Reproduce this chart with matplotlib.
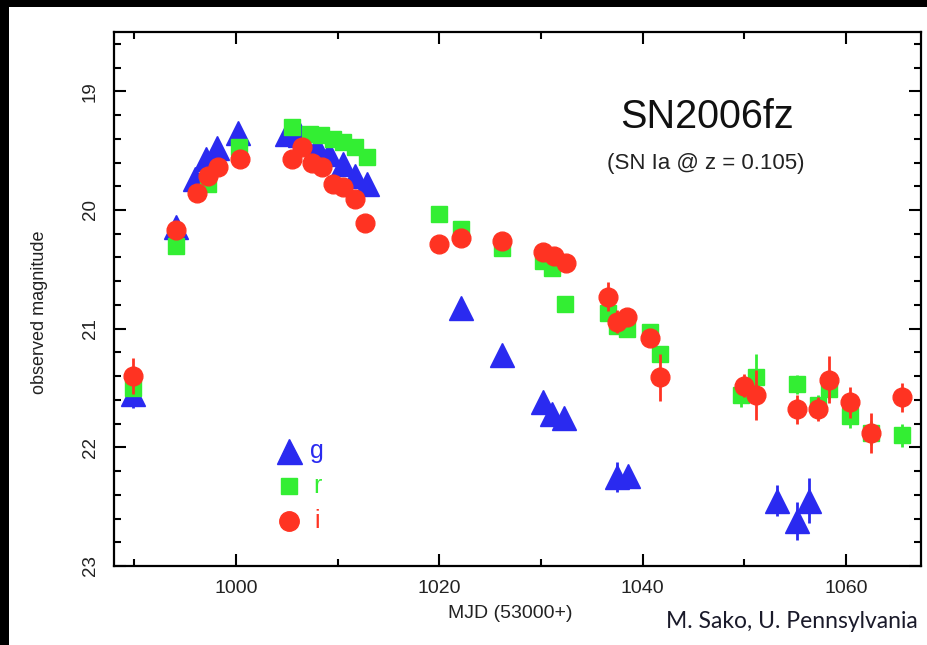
import matplotlib.pyplot as plt
from matplotlib.patches import Rectangle
from matplotlib.ticker import MultipleLocator

# ======================
# DATA
# ======================

# g band (triangles)
g_mjd = [989.9, 994.1, 996.0, 997.1, 998.1, 1000.2, 1005.0, 1006.3, 1008.0,
         1009.2, 1010.5, 1011.7, 1012.9, 1022.1, 1026.2, 1030.2, 1031.1,
         1032.3, 1037.5, 1038.6, 1053.2, 1055.2, 1056.4]
g_mag = [21.55, 20.14, 19.74, 19.57, 19.48, 19.35, 19.36, 19.37, 19.47,
         19.53, 19.61, 19.71, 19.78, 20.83, 21.22, 21.62, 21.72,
         21.75, 22.25, 22.24, 22.45, 22.62, 22.45]
g_err = [0.12, 0.03, 0.03, 0.03, 0.03, 0.03, 0.03, 0.03, 0.03,
         0.03, 0.03, 0.03, 0.03, 0.04, 0.04, 0.05, 0.05,
         0.05, 0.13, 0.06, 0.13, 0.16, 0.19]

# r band (squares)
r_mjd = [989.9, 994.1, 997.2, 1000.3, 1005.5, 1007.3, 1008.4, 1009.5, 1010.5,
         1011.7, 1012.9, 1020.0, 1022.1, 1026.2, 1030.2, 1031.1, 1032.4,
         1036.6, 1037.5, 1038.5, 1040.7, 1041.7, 1049.7, 1051.2, 1055.2,
         1057.3, 1058.3, 1060.4, 1062.5, 1065.5]
r_mag = [21.50, 20.30, 19.78, 19.47, 19.30, 19.36, 19.37, 19.40, 19.43,
         19.47, 19.55, 20.03, 20.16, 20.32, 20.43, 20.49, 20.79,
         20.87, 20.98, 21.00, 21.03, 21.21, 21.56, 21.41, 21.47,
         21.64, 21.51, 21.74, 21.88, 21.90]
r_err = [0.06, 0.02, 0.02, 0.02, 0.02, 0.02, 0.02, 0.02, 0.02,
         0.02, 0.02, 0.03, 0.03, 0.03, 0.03, 0.03, 0.03,
         0.04, 0.04, 0.04, 0.05, 0.06, 0.10, 0.20, 0.08,
         0.08, 0.08, 0.10, 0.10, 0.10]

# i band (circles)
i_mjd = [989.9, 994.1, 996.2, 997.2, 998.2, 1000.4, 1005.5, 1006.5, 1007.5,
         1008.5, 1009.5, 1010.5, 1011.7, 1012.7, 1020.0, 1022.1, 1026.2,
         1030.2, 1031.3, 1032.5, 1036.6, 1037.5, 1038.5, 1040.7, 1041.7,
         1050.0, 1051.2, 1055.2, 1057.3, 1058.3, 1060.4, 1062.5, 1065.5]
i_mag = [21.40, 20.17, 19.86, 19.71, 19.64, 19.57, 19.57, 19.47, 19.60,
         19.64, 19.78, 19.81, 19.91, 20.11, 20.29, 20.24, 20.26,
         20.35, 20.39, 20.45, 20.73, 20.94, 20.90, 21.08, 21.41,
         21.48, 21.56, 21.68, 21.68, 21.43, 21.62, 21.88, 21.58]
i_err = [0.15, 0.02, 0.02, 0.02, 0.02, 0.02, 0.02, 0.02, 0.02,
         0.02, 0.02, 0.02, 0.02, 0.02, 0.03, 0.03, 0.03,
         0.03, 0.03, 0.03, 0.12, 0.10, 0.05, 0.06, 0.20,
         0.10, 0.21, 0.12, 0.10, 0.20, 0.13, 0.17, 0.12]

BLUE = "#2a2af0"
GREEN = "#33ee33"
RED = "#ff3322"

plt.rcParams["font.family"] = ["Liberation Sans", "DejaVu Sans"]

fig = plt.figure(figsize=(9.28, 6.45), dpi=100, facecolor="black")
# white slide panel inside the dark frame
fig.patches.append(Rectangle((9 / 928, 0), 1, 638 / 645,
                             transform=fig.transFigure, facecolor="white",
                             edgecolor="none", zorder=-10))

ax = fig.add_axes([114 / 928, 1 - 566 / 645, 807 / 928, 534 / 645])

ax.errorbar(g_mjd, g_mag, yerr=g_err, fmt="^", color=BLUE, ms=17,
            elinewidth=2, capsize=0, zorder=3)
ax.errorbar(r_mjd, r_mag, yerr=r_err, fmt="s", color=GREEN, ms=11,
            elinewidth=2, capsize=0, zorder=4)
ax.errorbar(i_mjd, i_mag, yerr=i_err, fmt="o", color=RED, ms=13.5,
            elinewidth=2, capsize=0, zorder=5)

ax.set_xlim(988.0, 1067.4)
ax.set_ylim(23.0, 18.5)

ax.xaxis.set_major_locator(MultipleLocator(20))
ax.xaxis.set_minor_locator(MultipleLocator(10))
ax.yaxis.set_major_locator(MultipleLocator(1))
ax.yaxis.set_minor_locator(MultipleLocator(0.2))

ax.tick_params(which="both", direction="in", top=True, right=True,
               width=1.5, colors="black", labelcolor="#222222")
ax.tick_params(which="major", length=8.5)
ax.tick_params(which="minor", length=5)
ax.tick_params(axis="x", labelsize=14, pad=10)
ax.tick_params(axis="y", labelsize=13.5, pad=11)
for lab in ax.get_yticklabels():
    lab.set_rotation(90)
    lab.set_va("center")

for sp in ax.spines.values():
    sp.set_linewidth(1.6)

# legend drawn by hand
ax.plot([1005.2], [22.03], "^", color=BLUE, ms=18)
ax.text(1008.0, 22.03, "g", color=BLUE, fontsize=18, va="center", ha="center")
ax.plot([1005.2], [22.33], "s", color=GREEN, ms=11)
ax.text(1008.0, 22.33, "r", color=GREEN, fontsize=18, va="center", ha="center")
ax.plot([1005.2], [22.62], "o", color=RED, ms=14)
ax.text(1008.0, 22.62, "i", color=RED, fontsize=18, va="center", ha="center")

fig.text(707 / 928, 1 - 117 / 645, "SN2006fz", fontsize=28.5,
         ha="center", va="center", color="#111111")
fig.text(706 / 928, 1 - 163 / 645, "(SN Ia @ z = 0.105)", fontsize=16,
         ha="center", va="center", color="#222222")

fig.text(40 / 928, 1 - 312 / 645, "observed magnitude", fontsize=13,
         rotation=90, ha="center", va="center", color="#222222")
fig.text(510 / 928, 1 - 613 / 645, "MJD (53000+)", fontsize=14,
         ha="center", va="center", color="#222222")
fig.text(918 / 928, 1 - 622 / 645, "M. Sako, U. Pennsylvania",
         fontsize=16.5, family=["Lato", "DejaVu Sans"],
         ha="right", va="center", color="#1a1a2a")

fig.savefig("out.png", dpi=100, facecolor=fig.get_facecolor())
